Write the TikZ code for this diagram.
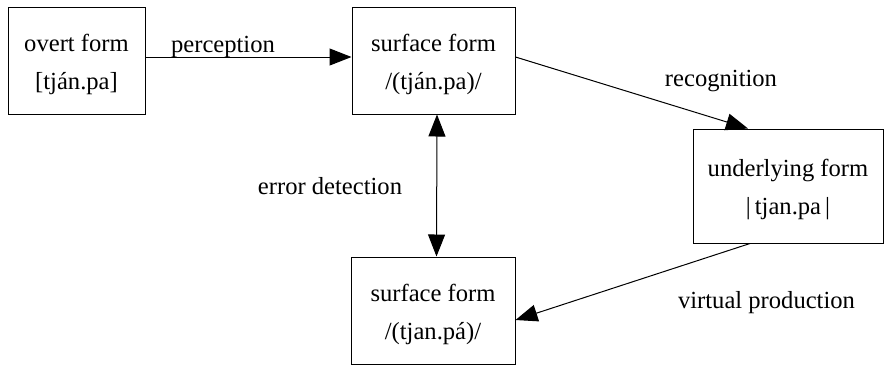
\documentclass[tikz,border=0pt]{standalone}
\usepackage{fontspec}
\setmainfont{Liberation Serif}
\usetikzlibrary{arrows.meta}

\begin{document}
\begin{tikzpicture}[x=0.5pt,y=-0.5pt,line width=0.5pt,
        form/.style={draw,align=center,inner sep=0pt,text height=31.5pt,font=\fontsize{12.3}{19}\selectfont},
        lbl/.style={anchor=base,inner sep=0pt,font=\fontsize{12.3}{15}\selectfont},
        >={Triangle[length=11pt,width=8.5pt]}]
        \useasboundingbox (0,0) rectangle (884,365);
        % boxes
        \node[form,minimum width=68.5pt,minimum height=53.5pt] (overt) at (76.5,60.5) {overt form\\ {[tján.pa]}};
        \node[form,minimum width=81.5pt,minimum height=53.5pt] (sfTop) at (433.5,60.5) {surface form\\ /(tján.pa)/};
        \node[form,minimum width=95pt,minimum height=57pt] (under) at (788,186) {underlying form\\ |\,tjan.pa\,|};
        \node[form,minimum width=82pt,minimum height=53.5pt] (sfBot) at (433,310.5) {surface form\\ /(tjan.pá)/};
        % connectors
        \draw[->] ([yshift=1.75pt]overt.east) -- ([yshift=1.75pt]sfTop.west);
        \draw[->] ([yshift=1.75pt]sfTop.east) -- ([xshift=-20pt]under.north);
        \draw[<->] ([xshift=1.75pt]sfTop.south) -- ([xshift=1.75pt]sfBot.north);
        \draw[->] ([xshift=-19pt]under.south) -- ([yshift=-4.75pt]sfBot.east);
        % labels
        \node[lbl] (percLbl) at (223,52) {perception};
        \node[lbl] (recoLbl) at (721,86) {recognition};
        \node[lbl] (errLbl) at (330,194) {error detection};
        \node[lbl] (virtLbl) at (766.5,308) {virtual production};
\end{tikzpicture}
\end{document}
